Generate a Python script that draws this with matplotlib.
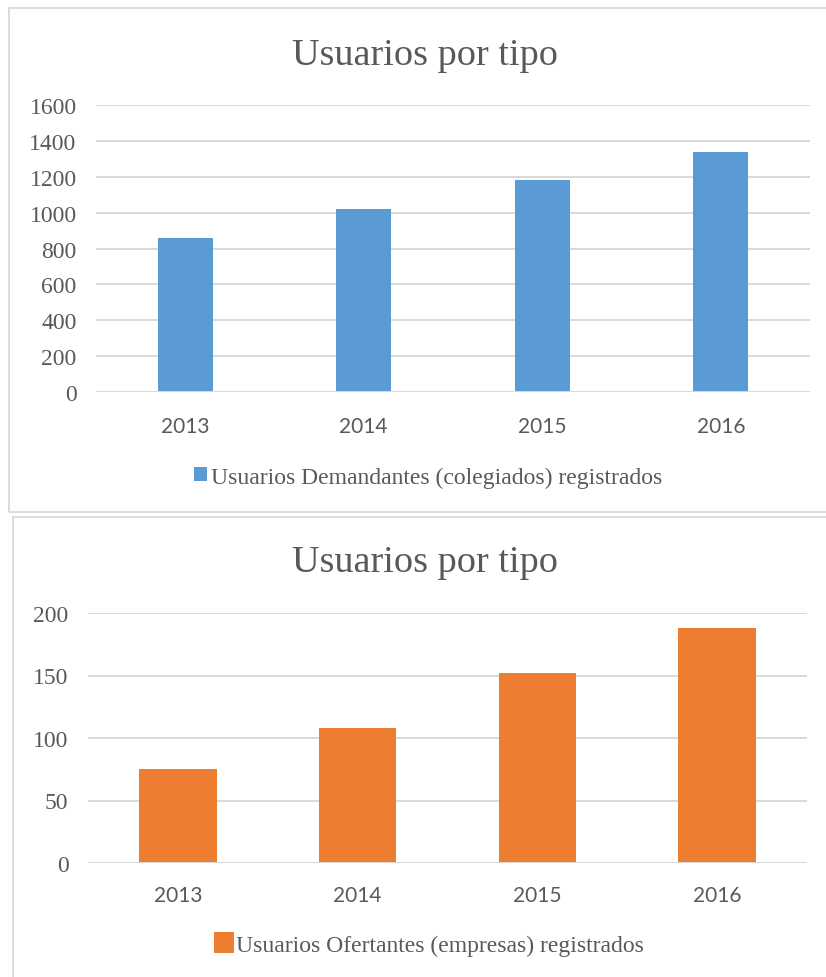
import matplotlib
matplotlib.use("Agg")
import matplotlib.pyplot as plt
from matplotlib.patches import Rectangle

years = ["2013", "2014", "2015", "2016"]
demandantes = [860, 1020, 1180, 1340]
ofertantes = [75, 108, 152, 188]
title = "Usuarios por tipo"
label_dem = "Usuarios Demandantes (colegiados) registrados"
label_ofe = "Usuarios Ofertantes (empresas) registrados"
yticks_top = [0, 200, 400, 600, 800, 1000, 1200, 1400, 1600]
yticks_bot = [0, 50, 100, 150, 200]

W, H = 826, 978
fig = plt.figure(figsize=(W / 100, H / 100), dpi=100)
fig.patch.set_facecolor("white")

TXT = "#595959"
GRID = "#D9D9D9"
BLUE = "#5B9BD5"
ORANGE = "#ED7D31"
SERIF = "Liberation Serif"
SANS = "Lato"


def fx(px):
    return px / W


def fy(py):
    return 1 - py / H


# chart boxes
fig.patches.append(Rectangle((fx(9), fy(513)), fx(900), (513 - 9) / H, transform=fig.transFigure,
                             fill=False, edgecolor="#D9D9D9", linewidth=1.3))
fig.patches.append(Rectangle((fx(13), fy(1000)), fx(900), (1000 - 518) / H, transform=fig.transFigure,
                             fill=False, edgecolor="#D9D9D9", linewidth=1.3))


def setup(ax, ticks, ymax, xpad):
    ax.set_ylim(0, ymax)
    ax.set_xlim(-0.5, len(years) - 0.5)
    ax.set_yticks(ticks)
    ax.set_yticklabels([str(t) for t in ticks], fontfamily=SERIF, fontsize=17, color=TXT)
    ax.set_xticks(range(len(years)))
    ax.set_xticklabels(years, fontfamily=SANS, fontsize=15, color=TXT)
    for s in ax.spines.values():
        s.set_visible(False)
    ax.tick_params(axis="both", length=0)
    ax.tick_params(axis="y", pad=14)
    ax.tick_params(axis="x", pad=xpad)
    ax.yaxis.grid(True, color=GRID, linewidth=1.4)
    ax.set_axisbelow(True)


# top chart
ax1 = fig.add_axes([fx(96), fy(393), fx(810 - 96), (393 - 106) / H])
setup(ax1, yticks_top, 1600, 17)
b1 = ax1.bar(range(len(years)), demandantes, width=0.31, color=BLUE, label=label_dem, zorder=2)
ax1.axhline(0, color=GRID, linewidth=1.4, zorder=3)
fig.text(fx(425), fy(56), title, ha="center", va="center", fontfamily=SERIF, fontsize=27.5, color=TXT)
fig.legend(handles=[b1], labels=[label_dem], loc="center", bbox_to_anchor=(fx(428), fy(478)),
           frameon=False, prop={"family": SERIF, "size": 17}, labelcolor=TXT,
           handlelength=0.55, handleheight=0.55, handletextpad=0.2)

# bottom chart
ax2 = fig.add_axes([fx(88), fy(864), fx(807 - 88), (864 - 614) / H])
setup(ax2, yticks_bot, 200, 16)
b2 = ax2.bar(range(len(years)), ofertantes, width=0.43, color=ORANGE, label=label_ofe, zorder=2)
ax2.axhline(0, color=GRID, linewidth=1.4, zorder=3)
fig.text(fx(425), fy(563), title, ha="center", va="center", fontfamily=SERIF, fontsize=27.5, color=TXT)
fig.legend(handles=[b2], labels=[label_ofe], loc="center", bbox_to_anchor=(fx(429), fy(945)),
           frameon=False, prop={"family": SERIF, "size": 17}, labelcolor=TXT,
           handlelength=0.85, handleheight=1.0, handletextpad=0.1)

fig.savefig("out.png", dpi=100)
